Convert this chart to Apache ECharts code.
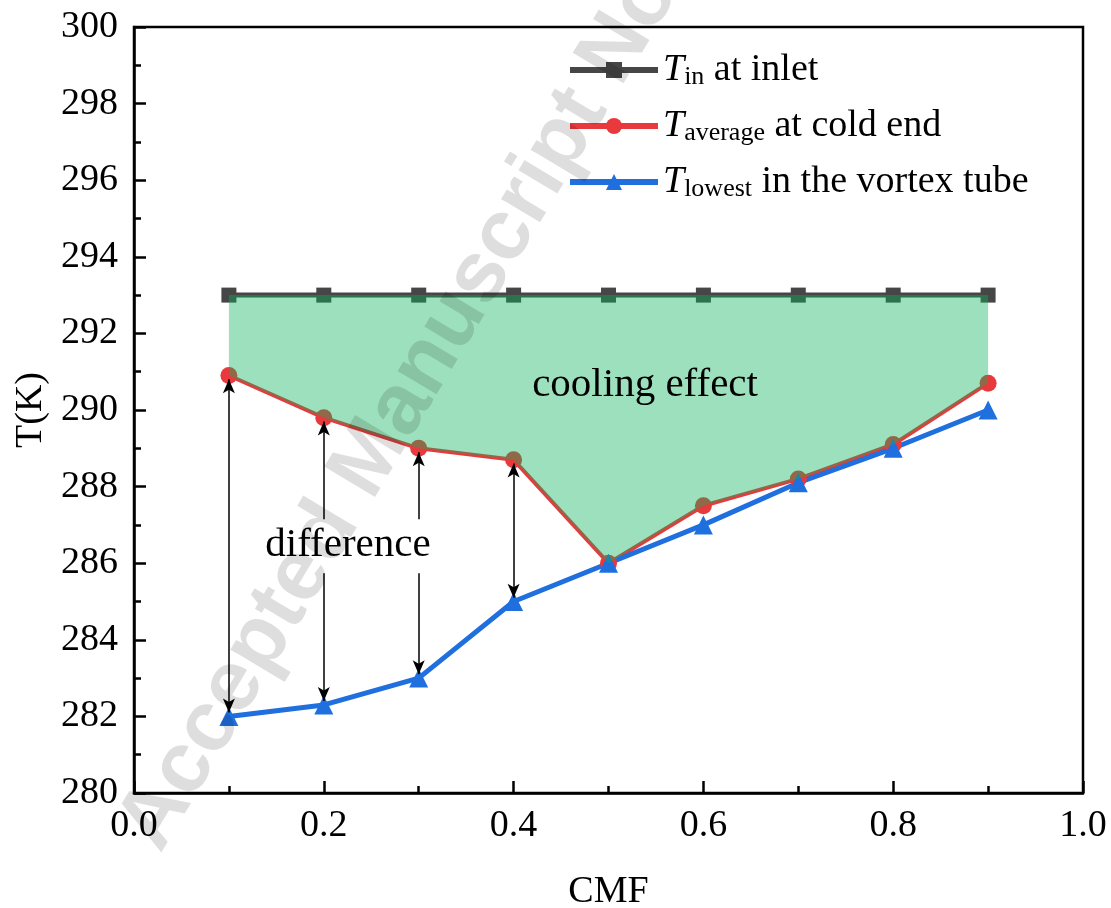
<!DOCTYPE html>
<html>
<head>
<meta charset="utf-8">
<script src="https://cdn.jsdelivr.net/npm/echarts@6/dist/echarts.min.js"></script>
<style>
html,body{margin:0;padding:0;background:#fff;}
#c{width:1111px;height:908px;}
</style>
</head>
<body>
<div id="c"></div>
<script>
// ---- data ----
var cmf = [0.1, 0.2, 0.3, 0.4, 0.5, 0.6, 0.7, 0.8, 0.9];
var tInlet = [293, 293, 293, 293, 293, 293, 293, 293, 293];
var tAverage = [290.9, 289.8, 289.0, 288.7, 286.0, 287.5, 288.2, 289.1, 290.7];
var tLowest = [282.0, 282.3, 283.0, 285.0, 286.0, 287.0, 288.1, 289.0, 290.0];
var seriesNames = ['T_in', 'T_average', 'T_lowest'];
var arrowAt = [0.1, 0.2, 0.3, 0.4];
var annotations = [
  ['cooling effect', 0.5385, 290.65, false],
  ['difference', 0.2255, 286.47, true]
];

function pairs(xs, ys) { return xs.map(function (x, i) { return [x, ys[i]]; }); }
var arrowLines = arrowAt.map(function (x) {
  var i = cmf.indexOf(x);
  return [{coord: [x, tAverage[i] - 0.1]}, {coord: [x, tLowest[i] + 0.1]}];
});

var FONT = '"Liberation Serif", "Times New Roman", serif';
var chart = echarts.init(document.getElementById('c'), null, {renderer: 'canvas'});
var legendRich = {
  i: {fontFamily: FONT, fontSize: 38, fontStyle: 'italic', color: '#000', lineHeight: 40, verticalAlign: 'middle'},
  s: {fontFamily: FONT, fontSize: 26, color: '#000', lineHeight: 40, verticalAlign: 'bottom', padding: [24, 0, 0, 0]},
  n: {fontFamily: FONT, fontSize: 38, color: '#000', lineHeight: 40, verticalAlign: 'middle'}
};
var legendText = {
  'T_in': '{i|T}{s|in}{n| at inlet}',
  'T_average': '{i|T}{s|average}{n| at cold end}',
  'T_lowest': '{i|T}{s|lowest}{n| in the vortex tube}'
};

chart.setOption({
  animation: false,
  backgroundColor: '#fff',
  grid: {left: 134, right: 28, top: 27, bottom: 115, show: true, borderColor: '#000', borderWidth: 2.5,
         backgroundColor: 'transparent', containLabel: false, outerBoundsMode: 'none'},
  legend: {
    data: seriesNames,
    orient: 'vertical',
    left: 562,
    top: 35,
    itemWidth: 88,
    itemHeight: 20,
    itemGap: 6,
    lineStyle: {width: 6},
    formatter: function (n) { return legendText[n]; },
    textStyle: {rich: legendRich, padding: [0, 0, 0, 0]}
  },
  xAxis: {
    type: 'value', min: 0, max: 1, interval: 0.2,
    name: 'CMF', nameLocation: 'middle', nameGap: 80,
    nameTextStyle: {fontFamily: FONT, fontSize: 38, color: '#000'},
    axisLine: {onZero: false, lineStyle: {color: '#000', width: 2.5}},
    axisTick: {inside: true, length: 12, lineStyle: {color: '#000', width: 2.5}},
    minorTick: {show: true, splitNumber: 2, length: 7, lineStyle: {color: '#000', width: 2.5}},
    axisLabel: {fontFamily: FONT, fontSize: 38, color: '#000', margin: 14, formatter: function (v) { return v.toFixed(1); }},
    splitLine: {show: false}
  },
  yAxis: {
    type: 'value', min: 280, max: 300, interval: 2,
    name: 'T(K)', nameLocation: 'middle', nameGap: 82, nameRotate: 90,
    nameTextStyle: {fontFamily: FONT, fontSize: 38, color: '#000'},
    axisLine: {onZero: false, lineStyle: {color: '#000', width: 2.5}},
    axisTick: {inside: true, length: 12, lineStyle: {color: '#000', width: 2.5}},
    minorTick: {show: true, splitNumber: 2, length: 7, lineStyle: {color: '#000', width: 2.5}},
    axisLabel: {fontFamily: FONT, fontSize: 38, color: '#000', margin: 16},
    splitLine: {show: false}
  },
  series: [
    {
      name: 'T_in', type: 'line', data: pairs(cmf, tInlet), z: 2,
      symbol: 'rect', symbolSize: 15,
      itemStyle: {color: '#464646'},
      lineStyle: {color: '#464646', width: 5}
    },
    {
      name: 'T_average', type: 'line', data: pairs(cmf, tAverage), z: 2,
      symbol: 'circle', symbolSize: 17,
      itemStyle: {color: '#e8393c'},
      lineStyle: {color: '#e8393c', width: 4}
    },
    {
      name: 'T_lowest', type: 'line', data: pairs(cmf, tLowest), z: 2,
      symbol: 'triangle', symbolSize: 19,
      itemStyle: {color: '#1f6fdf'},
      lineStyle: {color: '#1f6fdf', width: 5},
      markLine: {
        silent: true, symbol: ['arrow', 'arrow'], symbolSize: [9, 14],
        label: {show: false},
        lineStyle: {color: '#000', width: 1.5, type: 'solid'},
        data: arrowLines
      }
    },
    {
      name: 'coolingFill', type: 'custom', z: 3, silent: true,
      data: [0],
      renderItem: function (params, api) {
        var pts = [];
        for (var i = 0; i < cmf.length; i++) pts.push(api.coord([cmf[i], tInlet[i]]));
        for (var j = cmf.length - 1; j >= 0; j--) pts.push(api.coord([cmf[j], tAverage[j]]));
        return {type: 'polygon', shape: {points: pts}, style: {fill: 'rgba(10,177,90,0.4)'}};
      }
    },
    {
      name: 'annotations', type: 'custom', z: 10, silent: true,
      data: annotations,
      renderItem: function (params, api) {
        var a = annotations[params.dataIndex];
        var p = api.coord([a[1], a[2]]);
        var children = [];
        if (a[3]) {
          children.push({type: 'rect', shape: {x: p[0] - 88, y: p[1] - 26, width: 176, height: 54}, style: {fill: '#fff'}});
        }
        children.push({
          type: 'text', x: p[0], y: p[1],
          style: {text: a[0], font: '41px ' + FONT, fill: '#000', align: 'center', verticalAlign: 'middle'}
        });
        return {type: 'group', children: children};
      }
    }
  ],
  graphic: [{
    type: 'text', x: 140, y: 842, rotation: 59 * Math.PI / 180, z: 100, silent: true,
    style: {text: 'Accepted Manuscript Not Copyedited', font: 'bold 86px "Liberation Sans", Arial, sans-serif', fill: 'rgba(0,0,0,0.13)', textAlign: 'left', textVerticalAlign: 'middle'}
  }]
});
</script>
</body>
</html>
